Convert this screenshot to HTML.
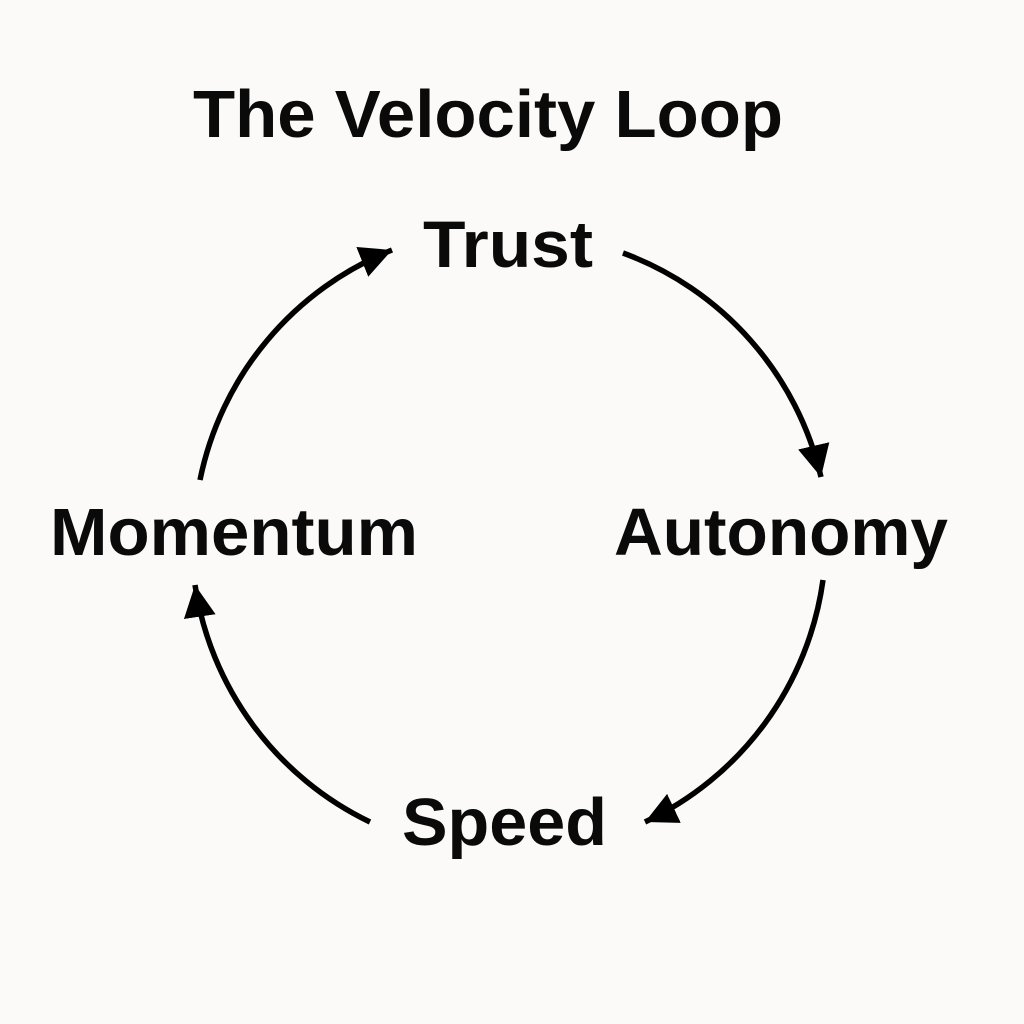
<!DOCTYPE html>
<html><head><meta charset="utf-8"><style>
html,body{margin:0;padding:0;background:#fbfaf8;}
svg{display:block}
text{font-family:"Liberation Sans",sans-serif;font-weight:bold;fill:#0a0a0a}
</style></head><body>
<svg width="1024" height="1024" viewBox="0 0 1024 1024">
<defs>
<marker id="a" markerUnits="userSpaceOnUse" markerWidth="40" markerHeight="40" refX="32" refY="16" orient="auto">
<path d="M0,0 L32,16 L0,32 Z" fill="#000"/>
</marker>
</defs>
<rect width="1024" height="1024" fill="#fbfaf8"/>
<text x="193" y="137" font-size="67" textLength="590" lengthAdjust="spacingAndGlyphs">The Velocity Loop</text>
<text x="423" y="267" font-size="66" textLength="170" lengthAdjust="spacingAndGlyphs">Trust</text>
<text x="50" y="555" font-size="67" textLength="368" lengthAdjust="spacingAndGlyphs">Momentum</text>
<text x="614" y="555" font-size="67" textLength="334" lengthAdjust="spacingAndGlyphs">Autonomy</text>
<text x="402" y="845" font-size="67" textLength="205" lengthAdjust="spacingAndGlyphs">Speed</text>
<g fill="none" stroke="#000" stroke-width="5.5">
<path d="M623,253 A315,315 0 0 1 821,477" marker-end="url(#a)"/>
<path d="M823,580 A315,315 0 0 1 645,822" marker-end="url(#a)"/>
<path d="M370,822 A315,315 0 0 1 195,585" marker-end="url(#a)"/>
<path d="M200,480 A315,315 0 0 1 392,250" marker-end="url(#a)"/>
</g>
</svg>
</body></html>
